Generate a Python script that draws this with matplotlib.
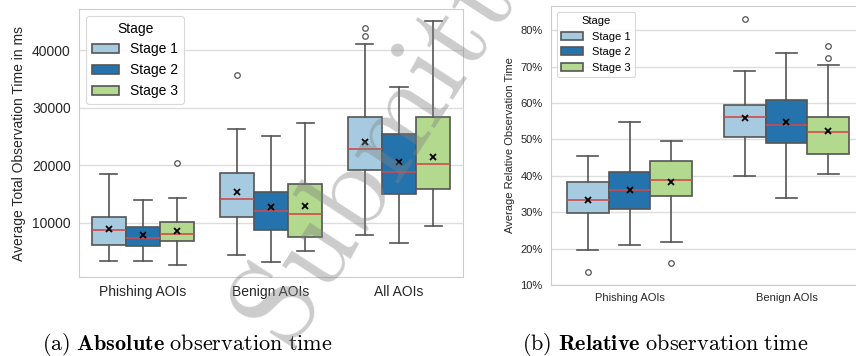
import numpy as np
import matplotlib.pyplot as plt
from matplotlib.patches import Patch
from matplotlib.ticker import PercentFormatter

plt.rcParams['font.family'] = ['Liberation Sans', 'DejaVu Sans']
plt.rcParams['mathtext.fontset'] = 'cm'

STAGES   = ['Stage 1', 'Stage 2', 'Stage 3']
COLORS   = ['#a6cbe0', '#2473ad', '#b2d98d']
EDGE     = '#555555'
MEDIAN_C = '#cf4b4b'

# absolute observation time (ms), rows = category, cols = stage
ABS_CATS    = ['Phishing AOIs', 'Benign AOIs', 'All AOIs']
abs_whislo  = [[3440, 3270, 2690], [4430, 3150, 5130], [7850, 6400, 9420]]
abs_q1      = [[6110, 5940, 6810], [11050, 8720, 7560], [19110, 15050, 15860]]
abs_med     = [[8660, 7390, 8030], [14120, 11970, 11510], [22830, 18880, 20270]]
abs_mean    = [[8900, 7850, 8600], [15340, 12730, 12900], [24100, 20500, 21430]]
abs_q3      = [[11050, 9250, 10170], [18650, 15280, 16670], [28340, 25500, 28400]]
abs_whishi  = [[18470, 14000, 14300], [26310, 25030, 27350], [41170, 33680, 45050]]
abs_fliers  = [[[], [], [20390]], [[35650], [], []], [[43780, 42440], [], []]]

# relative observation time (%)
REL_CATS    = ['Phishing AOIs', 'Benign AOIs']
rel_whislo  = [[19.7, 21.0, 21.7], [39.9, 34.0, 40.6]]
rel_q1      = [[29.7, 30.8, 34.4], [50.7, 48.9, 45.9]]
rel_med     = [[33.4, 36.0, 38.9], [56.3, 53.9, 52.1]]
rel_mean    = [[33.5, 36.0, 38.3], [55.8, 54.8, 52.3]]
rel_q3      = [[38.3, 41.0, 44.2], [59.6, 60.8, 56.1]]
rel_whishi  = [[45.4, 54.9, 49.7], [68.9, 73.9, 70.5]]
rel_fliers  = [[[13.5], [], [16.1]], [[83.2], [], [75.8, 72.3]]]


def draw_boxes(ax, cats, whislo, q1, med, mean, q3, whishi, fliers, fs):
    width = 0.8 / len(STAGES)
    for j, color in enumerate(COLORS):
        stats, pos = [], []
        for i in range(len(cats)):
            stats.append(dict(whislo=whislo[i][j], q1=q1[i][j], med=med[i][j], mean=mean[i][j],
                              q3=q3[i][j], whishi=whishi[i][j], fliers=fliers[i][j]))
            pos.append(i + (j - 1) * width)
        ax.bxp(stats, positions=pos, widths=width, patch_artist=True, showmeans=True,
               boxprops=dict(facecolor=color, edgecolor=EDGE, linewidth=1.2),
               whiskerprops=dict(color=EDGE, linewidth=1.2),
               capprops=dict(color=EDGE, linewidth=1.2),
               medianprops=dict(color=MEDIAN_C, linewidth=1.2),
               meanprops=dict(marker='x', markeredgecolor='black', markersize=5, markeredgewidth=1.3),
               flierprops=dict(marker='o', markerfacecolor='none', markeredgecolor=EDGE,
                               markersize=4, markeredgewidth=0.9),
               capwidths=width * 0.5)
    ax.set_xlim(-0.5, len(cats) - 0.5)
    ax.set_xticks(range(len(cats)))
    ax.set_xticklabels(cats, fontsize=fs)
    ax.tick_params(axis='both', length=0, labelsize=fs, colors='#262626', pad=6)
    ax.grid(axis='y', color='#dddddd', linewidth=1)
    ax.set_axisbelow(True)
    for s in ax.spines.values():
        s.set_color('#cccccc')
    handles = [Patch(facecolor=c, edgecolor=EDGE, linewidth=1.2, label=s) for c, s in zip(COLORS, STAGES)]
    leg = ax.legend(handles=handles, title='Stage', loc='upper left', fontsize=fs, title_fontsize=fs,
                    frameon=True, fancybox=True, edgecolor='#d0d0d0', borderaxespad=0.5)
    leg.get_frame().set_linewidth(0.8)


fig = plt.figure(figsize=(8.56, 3.56), dpi=100)
ax1 = fig.add_axes([0.0923, 0.2219, 0.4486, 0.7528])
ax2 = fig.add_axes([0.6437, 0.1994, 0.3668, 0.7837])

draw_boxes(ax1, ABS_CATS, abs_whislo, abs_q1, abs_med, abs_mean, abs_q3, abs_whishi, abs_fliers, 10)
ax1.set_ylabel('Average Total Observation Time in ms', fontsize=10, color='#262626')

draw_boxes(ax2, REL_CATS, rel_whislo, rel_q1, rel_med, rel_mean, rel_q3, rel_whishi, rel_fliers, 8)
ax2.set_ylim(bottom=10)
ax2.yaxis.set_major_formatter(PercentFormatter(100, decimals=0))
ax2.set_ylabel('Average Relative Observation Time', fontsize=8, color='#262626')

fig.text(0.219, 0.018, r'$\mathrm{(a)\ }\mathbf{Absolute}\mathrm{\ observation\ time}$', fontsize=16, ha='center')
fig.text(0.777, 0.018, r'$\mathrm{(b)\ }\mathbf{Relative}\mathrm{\ observation\ time}$', fontsize=16, ha='center')

# watermark
fig.text(289 / 856, 3 / 356, r'$\mathrm{Submitted}$', rotation=57, rotation_mode='anchor', ha='left',
         va='baseline', fontsize=86, color='gray', alpha=0.4, zorder=10)

fig.savefig('out.png', dpi=100)
